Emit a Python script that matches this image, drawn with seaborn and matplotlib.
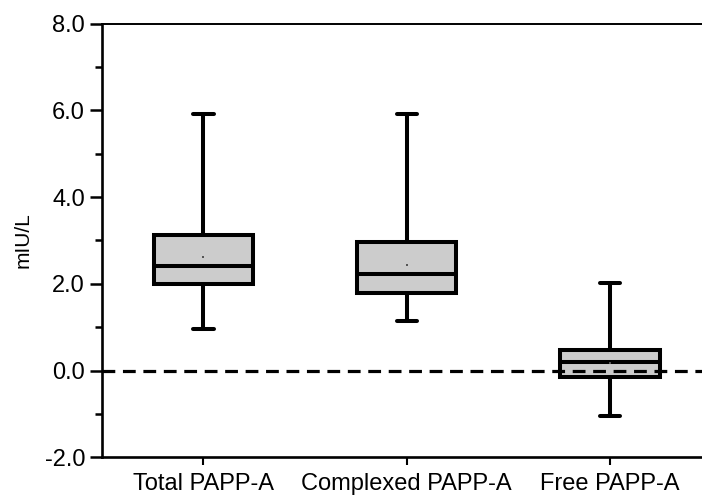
import matplotlib
matplotlib.use("Agg")
import matplotlib.pyplot as plt
from matplotlib.ticker import MultipleLocator, FormatStrFormatter
import pandas as pd
import seaborn as sns

# five-number summaries
groups = ["Total PAPP-A", "Complexed PAPP-A", "Free PAPP-A"]
lows = [0.97, 1.15, -1.05]
q1s = [1.99, 1.79, -0.15]
medians = [2.42, 2.22, 0.21]
q3s = [3.13, 2.97, 0.48]
highs = [5.91, 5.91, 2.02]
means = [2.62, 2.43, 0.17]

# 5 points per group -> percentiles 0/25/50/75/100 hit the summary exactly
rows = []
for g, lo, a, m, b, hi in zip(groups, lows, q1s, medians, q3s, highs):
    for v in (lo, a, m, b, hi):
        rows.append({"group": g, "value": v})
df = pd.DataFrame(rows)
df_mean = pd.DataFrame({"group": groups, "value": means})

sns.set_style("ticks")
plt.rcParams["font.family"] = ["Liberation Sans", "DejaVu Sans"]
plt.rcParams["axes.unicode_minus"] = False
plt.rcParams["text.color"] = "black"
plt.rcParams["axes.labelcolor"] = "black"
plt.rcParams["xtick.color"] = "black"
plt.rcParams["ytick.color"] = "black"
plt.rcParams["axes.edgecolor"] = "black"

fig = plt.figure(figsize=(7.02, 4.97), dpi=100)
ax = fig.add_axes([0.1449, 0.0795, 0.8688, 0.8732])

sns.boxplot(data=df, x="group", y="value", order=groups, whis=(0, 100),
            width=0.49, color="#cccccc", saturation=1, linecolor="black",
            linewidth=2.9, fliersize=0, capwidths=0.1, ax=ax)
sns.scatterplot(data=df_mean, x="group", y="value", marker="s", s=1.5,
                color="#555555", linewidth=0, ax=ax, zorder=4)

ax.axhline(0, color="black", lw=2.3, ls=(0, (4, 2.4)), zorder=6)

ax.set_xlim(-0.5, 2.5)
ax.set_ylim(-2, 8)
ax.yaxis.set_major_locator(MultipleLocator(2))
ax.yaxis.set_minor_locator(MultipleLocator(1))
ax.yaxis.set_major_formatter(FormatStrFormatter("%.1f"))

ax.tick_params(axis="y", which="major", length=9, width=1.8, labelsize=17, pad=3)
ax.tick_params(axis="y", which="minor", length=5, width=1.8)
ax.tick_params(axis="x", length=6, width=1.5, labelsize=17, pad=5)

for side in ("left", "bottom"):
    ax.spines[side].set_linewidth(1.9)
ax.spines["top"].set_linewidth(1.4)
ax.spines["right"].set_visible(False)

ax.set_xlabel("")
ax.set_ylabel("mIU/L", fontsize=15)
ax.yaxis.set_label_coords(-0.114, 0.5)

fig.savefig("out.png", dpi=100)
